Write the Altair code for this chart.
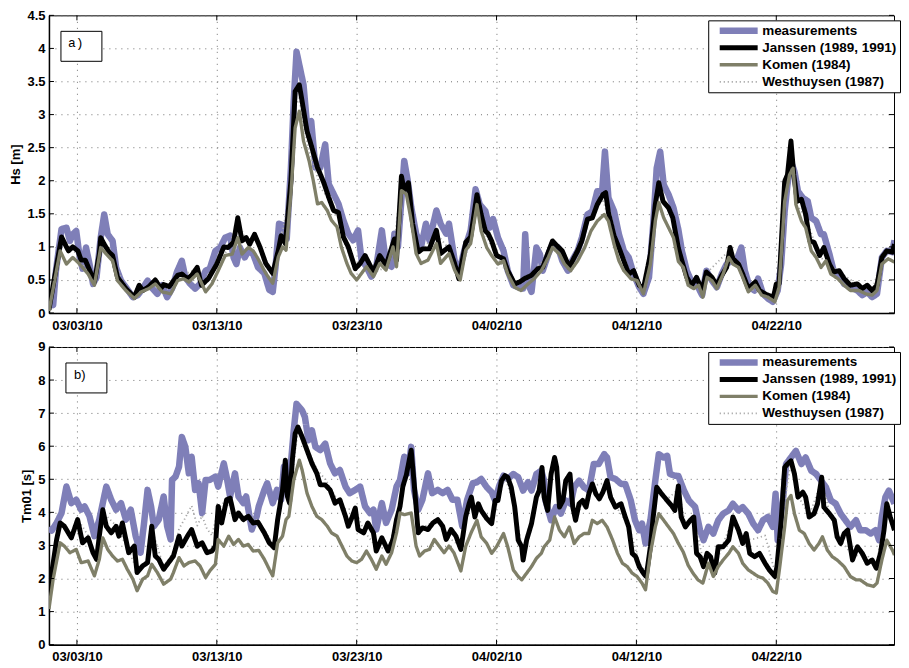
import altair as alt
import pandas as pd

START = pd.Timestamp("2010-03-01")

SERIES = ["measurements", "Janssen (1989, 1991)", "Komen (1984)", "Westhuysen (1987)"]
COLORS = ["#7f7fb8", "#000000", "#7f7f68", "#a8a8a8"]
WIDTHS = [6.5, 1.8, 1.9, 1.4]
DASHES = [[1, 0], [1, 0], [1, 0], [1.2, 2.8]]
DRAW_ORDER = ["measurements", "Westhuysen (1987)", "Janssen (1989, 1991)", "Komen (1984)"]

# ---------------- panel a: Hs [m]  (day offset from 2010-03-01, value) ----------------
hs_meas = [(0,0.22),(0.3,0.12),(0.5,0.64),(0.9,1.27),(1.25,1.29),(1.5,1.09),(1.7,1.19),(1.95,1.24),(2.2,0.84),(2.4,0.67),(2.65,0.99),(2.9,0.74),(3.15,0.44),(3.4,0.54),(3.7,1.14),(3.95,1.49),(4.2,1.19),(4.55,1.09),(4.8,0.69),(5.15,0.49),(5.5,0.39),(6.0,0.24),(6.35,0.27),(6.7,0.37),(7.05,0.49),(7.4,0.37),(7.75,0.29),(8.1,0.42),(8.45,0.24),(8.8,0.37),(9.15,0.62),(9.5,0.79),(9.75,0.54),(10.1,0.44),(10.45,0.37),(10.8,0.44),(11.2,0.64),(11.5,0.67),(11.9,0.94),(12.25,0.99),(12.6,1.14),(12.95,1.17),(13.2,0.84),(13.4,0.74),(13.65,0.99),(14.0,0.84),(14.25,0.94),(14.6,0.89),(14.95,0.69),(15.4,0.6),(15.75,0.35),(16.0,0.32),(16.2,0.7),(16.45,1.35),(16.8,1.32),(17.0,1.12),(17.3,2.2),(17.5,3.2),(17.7,3.95),(18.0,3.65),(18.2,3.45),(18.45,2.85),(18.75,2.9),(19.05,2.2),(19.4,2.2),(19.75,2.55),(20.0,1.95),(20.35,1.8),(20.7,1.65),(21.05,1.4),(21.4,1.2),(21.75,1.1),(22.1,1.25),(22.35,0.8),(22.7,0.7),(23.05,0.55),(23.4,0.7),(23.8,1.25),(24.1,0.75),(24.5,0.7),(24.7,1.2),(24.95,1.0),(25.4,2.3),(25.65,2.0),(25.9,1.6),(26.25,1.2),(26.6,1.0),(26.95,1.35),(27.2,1.1),(27.7,1.55),(28.0,1.35),(28.4,1.2),(28.6,1.35),(29.0,0.8),(29.3,0.6),(29.7,0.95),(30.15,1.25),(30.5,1.87),(30.8,1.64),(31.2,1.54),(31.5,1.29),(31.75,1.42),(32.1,1.14),(32.5,0.94),(32.8,0.64),(33.2,0.42),(33.55,0.39),(33.9,0.37),(34.05,1.19),(34.25,0.44),(34.5,0.32),(34.85,0.99),(35.1,0.89),(35.3,0.64),(35.7,0.89),(36.0,1.04),(36.4,0.99),(36.7,0.79),(37.1,0.64),(37.4,0.79),(37.8,0.94),(38.1,1.14),(38.5,1.49),(38.85,1.54),(39.2,1.84),(39.55,1.84),(39.75,2.44),(40.0,1.74),(40.4,1.54),(40.75,1.19),(41.1,0.94),(41.45,0.84),(41.8,0.59),(42.2,0.39),(42.5,0.29),(42.9,0.54),(43.2,1.34),(43.45,2.19),(43.7,2.44),(43.95,1.94),(44.3,1.79),(44.65,1.59),(45.0,1.26),(45.25,0.94),(45.6,0.64),(45.95,0.47),(46.3,0.44),(46.7,0.27),(47.0,0.64),(47.4,0.49),(47.75,0.39),(48.1,0.59),(48.45,0.74),(48.8,0.79),(49.15,0.79),(49.5,0.99),(49.75,0.64),(50.1,0.39),(50.45,0.34),(50.7,0.52),(51.05,0.29),(51.4,0.22),(51.75,0.17),(52.1,0.34),(52.35,0.74),(52.6,1.54),(52.8,1.94),(53.05,2.29),(53.3,2.14),(53.55,1.84),(53.9,1.74),(54.25,1.69),(54.5,1.44),(54.85,1.39),(55.2,1.19),(55.4,1.19),(55.8,0.89),(56.1,0.64),(56.5,0.57),(56.85,0.44),(57.3,0.39),(57.8,0.34),(58.15,0.27),(58.5,0.32),(58.85,0.24),(59.2,0.29),(59.55,0.84),(59.9,0.94),(60.3,0.92),(60.45,1.1)]

hs_janssen = [(0,0.05),(0.9,1.15),(1.25,1.0),(1.4,0.94),(1.7,1.0),(2.07,0.94),(2.3,0.8),(2.6,0.8),(2.9,0.65),(3.25,0.47),(3.6,0.9),(3.7,1.14),(3.95,1.04),(4.3,0.92),(4.55,0.87),(4.9,0.54),(5.5,0.37),(6.1,0.24),(6.45,0.42),(6.7,0.34),(7.15,0.4),(7.6,0.5),(8.0,0.37),(8.2,0.43),(8.6,0.4),(9.2,0.57),(9.5,0.59),(9.9,0.52),(10.2,0.57),(10.6,0.69),(10.9,0.42),(11.4,0.52),(12.0,0.74),(12.5,1.0),(12.8,0.99),(13.2,1.07),(13.5,1.44),(13.8,1.09),(14.1,1.14),(14.35,1.04),(14.7,1.19),(15.1,0.99),(15.5,0.75),(16.0,0.6),(16.4,0.95),(16.6,1.17),(16.9,1.05),(17.3,2.0),(17.6,3.35),(17.9,3.45),(18.1,3.2),(18.45,2.75),(18.8,2.5),(19.2,2.2),(19.4,2.1),(19.65,1.97),(20.0,1.75),(20.35,1.55),(20.7,1.52),(21.05,1.15),(21.4,1.0),(21.9,0.67),(22.25,0.75),(22.6,0.87),(23.2,0.62),(23.65,0.87),(24.1,0.72),(24.7,1.12),(24.85,0.8),(25.2,2.07),(25.4,1.85),(25.7,1.97),(26.0,1.35),(26.4,0.92),(26.7,0.97),(27.2,0.97),(27.7,1.25),(28.0,0.9),(28.6,1.0),(29.0,0.75),(29.3,0.52),(29.8,1.07),(30.15,1.15),(30.6,1.79),(30.9,1.49),(31.2,1.24),(31.4,1.2),(31.65,1.09),(32.0,0.87),(32.5,0.82),(32.8,0.64),(33.3,0.44),(33.65,0.47),(34.0,0.52),(34.5,0.57),(34.95,0.67),(35.3,0.69),(35.7,0.92),(36.0,1.09),(36.4,1.0),(36.7,0.94),(37.2,0.69),(37.55,0.84),(37.8,0.94),(38.1,1.09),(38.5,1.42),(38.85,1.44),(39.2,1.64),(39.6,1.79),(39.8,1.82),(40.0,1.52),(40.4,1.17),(40.75,0.99),(41.1,0.79),(41.45,0.59),(41.8,0.64),(42.2,0.42),(42.5,0.37),(43.0,0.89),(43.35,1.64),(43.6,1.97),(43.9,1.69),(44.3,1.59),(44.6,1.44),(45.0,0.98),(45.25,0.79),(45.6,0.54),(45.95,0.42),(46.3,0.54),(46.7,0.34),(47.0,0.62),(47.4,0.54),(47.75,0.42),(48.1,0.57),(48.45,0.69),(48.7,0.99),(48.9,0.82),(49.3,0.74),(49.6,0.59),(50.0,0.37),(50.5,0.47),(50.8,0.34),(51.3,0.28),(51.8,0.24),(52.0,0.44),(52.2,0.44),(52.6,1.99),(52.8,2.09),(53.05,2.6),(53.25,2.09),(53.5,1.69),(53.8,1.72),(54.1,1.49),(54.4,1.09),(54.7,1.07),(55.1,0.87),(55.4,0.99),(55.8,0.74),(56.1,0.62),(56.5,0.64),(56.85,0.52),(57.3,0.42),(57.8,0.44),(58.15,0.37),(58.5,0.42),(58.85,0.34),(59.2,0.42),(59.55,0.84),(59.9,0.94),(60.3,0.92),(60.45,1.04)]

hs_komen = [(0,0.03),(0.8,0.94),(1.25,0.74),(1.7,0.84),(2.05,0.77),(2.4,0.69),(2.8,0.59),(3.25,0.42),(3.7,0.99),(4.1,0.89),(4.55,0.79),(4.9,0.49),(5.5,0.34),(6.1,0.22),(6.6,0.32),(7.15,0.37),(7.6,0.44),(8.1,0.32),(8.7,0.29),(9.2,0.49),(9.6,0.52),(10.0,0.47),(10.6,0.59),(11.2,0.32),(11.65,0.44),(12.1,0.64),(12.6,0.87),(13.1,0.89),(13.5,1.14),(13.8,0.89),(14.25,0.99),(14.6,0.94),(14.95,0.82),(15.5,0.6),(16.0,0.45),(16.4,0.85),(16.7,1.0),(16.95,0.95),(17.3,1.8),(17.6,2.8),(17.9,3.05),(18.2,2.6),(18.6,2.3),(18.9,2.0),(19.2,1.65),(19.5,1.67),(19.9,1.55),(20.2,1.4),(20.6,1.3),(20.9,1.0),(21.3,0.75),(21.6,0.6),(22.0,0.5),(22.35,0.6),(22.7,0.7),(23.2,0.55),(23.65,0.75),(24.1,0.65),(24.6,1.0),(24.85,0.7),(25.2,1.85),(25.55,1.8),(25.9,1.4),(26.25,0.9),(26.6,0.75),(27.1,0.8),(27.7,1.05),(28.0,0.75),(28.6,0.9),(29.0,0.65),(29.4,0.5),(29.8,0.95),(30.15,1.05),(30.6,1.64),(30.9,1.24),(31.3,0.99),(31.65,0.87),(32.1,0.74),(32.5,0.79),(32.8,0.59),(33.3,0.39),(33.75,0.34),(34.25,0.44),(34.7,0.52),(35.2,0.64),(35.7,0.84),(36.0,0.99),(36.5,0.89),(36.85,0.74),(37.3,0.64),(37.8,0.79),(38.3,0.99),(38.75,1.24),(39.2,1.39),(39.7,1.49),(40.0,1.39),(40.4,1.04),(40.75,0.79),(41.1,0.64),(41.6,0.52),(42.05,0.49),(42.5,0.29),(43.0,0.74),(43.35,1.39),(43.6,1.67),(43.95,1.44),(44.3,1.29),(44.65,1.14),(45.0,0.78),(45.35,0.69),(45.7,0.42),(46.1,0.37),(46.45,0.42),(46.75,0.24),(47.05,0.54),(47.4,0.49),(47.75,0.37),(48.2,0.59),(48.6,0.84),(48.9,0.74),(49.3,0.69),(49.6,0.54),(50.0,0.32),(50.5,0.42),(50.95,0.27),(51.4,0.24),(51.9,0.17),(52.2,0.39),(52.6,1.69),(52.95,2.09),(53.2,2.19),(53.4,1.64),(53.8,1.39),(54.1,1.29),(54.5,0.94),(54.85,0.84),(55.2,0.69),(55.55,0.79),(55.9,0.59),(56.4,0.52),(56.85,0.42),(57.3,0.34),(57.9,0.34),(58.4,0.29),(58.85,0.27),(59.2,0.34),(59.55,0.74),(60.0,0.82),(60.45,0.77)]

hs_westhuysen = [(0,0.05),(0.9,1.1),(1.7,0.97),(2.3,0.78),(3.25,0.46),(3.7,1.1),(4.55,0.85),(5.5,0.36),(6.1,0.24),(7.6,0.48),(8.6,0.39),(9.5,0.57),(10.6,0.67),(10.9,0.42),(12.0,0.72),(12.8,0.97),(13.5,1.38),(14.1,1.1),(14.7,1.15),(15.5,0.73),(16.0,0.58),(16.6,1.12),(17.3,1.9),(17.6,3.1),(17.9,3.25),(18.2,2.85),(18.6,2.45),(19.0,2.2),(19.4,1.9),(19.9,1.75),(20.35,1.5),(20.7,1.45),(21.05,1.1),(21.9,0.65),(22.6,0.82),(23.2,0.6),(24.1,0.7),(24.7,1.08),(25.2,2.0),(25.7,1.9),(26.4,0.9),(27.7,1.2),(28.6,0.97),(29.3,0.52),(30.15,1.12),(30.6,1.75),(31.2,1.2),(32.0,0.85),(33.3,0.43),(34.5,0.56),(35.7,0.9),(36.0,1.06),(37.2,0.68),(38.5,1.38),(39.6,1.72),(40.4,1.14),(41.45,0.58),(42.5,0.36),(43.35,1.6),(43.6,1.92),(44.6,1.4),(45.6,0.53),(46.7,0.33),(47.0,0.6),(48.7,0.96),(50.0,0.37),(51.8,0.23),(52.2,0.43),(52.6,1.95),(53.05,2.5),(53.5,1.62),(54.1,1.45),(55.1,0.85),(56.5,0.62),(57.8,0.43),(58.85,0.33),(59.55,0.82),(60.45,1.0)]

# ---------------- panel b: Tm01 [s] ----------------
tm_meas = [(0,3.55),(0.2,3.45),(0.55,3.68),(0.9,3.98),(1.25,4.78),(1.6,4.28),(1.95,4.38),(2.3,4.08),(2.55,4.18),(2.9,3.88),(3.25,3.28),(3.6,3.78),(4.1,4.78),(4.45,4.38),(4.8,4.08),(5.15,4.28),(5.5,3.78),(5.85,4.08),(6.2,3.28),(6.55,2.78),(6.8,3.68),(7.05,4.68),(7.3,4.18),(7.5,3.58),(7.85,3.78),(8.2,4.48),(8.45,3.58),(8.7,3.18),(8.8,4.98),(9.05,5.08),(9.3,5.38),(9.5,6.28),(9.75,5.98),(10.0,5.18),(10.2,5.68),(10.45,4.68),(10.7,4.88),(10.95,3.98),(11.2,4.98),(11.5,4.98),(11.9,5.08),(12.1,4.78),(12.5,5.48),(12.7,5.08),(12.95,4.48),(13.3,5.18),(13.55,4.48),(13.9,4.28),(14.1,4.48),(14.5,3.48),(14.85,3.88),(15.0,4.18),(15.4,4.68),(15.6,4.88),(16.0,4.28),(16.3,4.68),(16.6,4.38),(16.8,5.38),(17.0,4.98),(17.3,5.48),(17.5,6.48),(17.7,7.28),(18.1,7.08),(18.3,6.88),(18.55,6.18),(18.8,6.48),(19.05,5.98),(19.4,5.88),(19.75,6.08),(20.1,5.48),(20.45,5.18),(20.8,5.28),(21.2,4.78),(21.5,4.58),(21.9,4.68),(22.25,4.78),(22.6,4.18),(22.95,3.98),(23.2,4.08),(23.4,3.48),(23.8,4.28),(24.1,3.68),(24.5,4.08),(24.85,4.78),(25.1,4.98),(25.4,5.68),(25.65,5.18),(25.9,5.98),(26.1,4.68),(26.4,4.08),(26.7,4.38),(27.1,5.18),(27.4,4.58),(27.8,4.68),(28.15,4.58),(28.5,4.68),(28.85,4.38),(29.2,4.38),(29.55,3.58),(29.9,4.38),(30.3,4.88),(30.6,4.91),(30.9,5.01),(31.3,4.76),(31.65,4.61),(31.9,4.36),(32.2,4.81),(32.5,5.11),(32.8,5.01),(33.2,5.16),(33.55,5.06),(33.9,4.66),(34.25,4.91),(34.5,4.66),(34.85,5.16),(35.2,5.26),(35.4,4.96),(35.5,4.36),(35.9,3.76),(36.25,4.16),(36.6,3.96),(36.95,4.36),(37.3,4.26),(37.55,4.76),(37.9,4.96),(38.25,4.76),(38.6,4.66),(38.95,5.46),(39.3,5.46),(39.7,5.76),(39.9,5.66),(40.15,5.06),(40.5,5.01),(40.9,4.86),(41.2,4.86),(41.6,4.36),(41.9,3.76),(42.2,3.46),(42.4,3.66),(42.65,3.06),(43.0,3.76),(43.35,4.96),(43.6,5.76),(43.95,5.66),(44.2,5.71),(44.4,5.16),(44.75,5.11),(45.0,5.1),(45.4,4.66),(45.75,4.36),(46.2,4.16),(46.55,3.46),(46.8,3.16),(47.15,3.56),(47.5,3.36),(47.85,3.76),(48.2,3.96),(48.6,4.06),(48.9,4.26),(49.3,4.06),(49.6,4.16),(50.0,3.96),(50.35,3.66),(50.7,3.46),(51.05,3.76),(51.4,3.86),(51.75,3.56),(51.95,4.56),(52.1,3.16),(52.5,4.46),(52.7,5.46),(53.05,5.66),(53.4,5.86),(53.8,5.46),(54.1,5.66),(54.5,5.26),(54.85,5.16),(55.2,4.96),(55.55,4.76),(55.9,4.36),(56.25,4.26),(56.6,3.96),(56.95,3.76),(57.3,3.56),(57.7,3.76),(58.0,3.46),(58.4,3.46),(58.75,3.36),(59.1,3.46),(59.35,3.16),(59.55,3.86),(59.8,4.46),(60.05,4.66),(60.45,4.26)]

tm_janssen = [(0,1.58),(0.2,2.18),(0.55,3.18),(0.8,3.68),(1.1,3.58),(1.6,3.23),(2.05,3.78),(2.4,3.08),(2.8,3.23),(3.15,2.78),(3.4,2.58),(3.6,3.28),(3.85,4.08),(4.1,3.58),(4.45,3.38),(4.8,3.58),(5.0,3.28),(5.25,3.68),(5.5,3.18),(5.7,2.78),(6.1,2.98),(6.3,2.18),(6.7,2.38),(7.05,2.48),(7.35,3.58),(7.6,2.68),(7.85,2.58),(8.2,2.28),(8.55,2.48),(8.9,2.68),(9.3,3.28),(9.5,2.98),(9.9,3.28),(10.2,3.48),(10.6,2.98),(10.95,3.08),(11.3,2.78),(11.65,2.83),(11.9,2.98),(12.1,4.18),(12.35,3.68),(12.7,4.38),(12.95,4.43),(13.3,3.78),(13.55,3.98),(13.9,3.78),(14.25,3.88),(14.6,3.68),(14.95,3.7),(15.4,3.38),(15.75,3.08),(16.1,2.93),(16.35,3.78),(16.7,4.68),(16.9,5.58),(17.05,4.48),(17.2,4.28),(17.4,5.58),(17.6,6.38),(17.8,6.58),(18.1,6.28),(18.45,5.88),(18.8,5.48),(19.15,5.18),(19.4,4.83),(19.75,4.83),(20.1,4.68),(20.45,4.28),(20.8,4.38),(21.2,3.88),(21.4,3.58),(21.65,3.83),(21.9,4.13),(22.1,3.48),(22.5,3.38),(22.8,3.68),(23.2,3.38),(23.4,2.83),(23.8,3.23),(24.25,2.83),(24.6,3.18),(24.85,3.78),(25.1,4.18),(25.3,4.78),(25.55,5.13),(25.9,5.88),(26.15,4.68),(26.4,3.38),(26.7,3.53),(27.1,3.48),(27.45,3.68),(27.8,3.78),(28.15,3.58),(28.4,3.18),(28.75,3.48),(29.1,3.28),(29.45,2.88),(29.8,3.88),(30.05,4.28),(30.2,4.46),(30.45,3.86),(30.7,4.26),(30.9,4.06),(31.3,3.81),(31.65,3.66),(31.9,4.36),(32.1,4.36),(32.35,4.96),(32.6,5.11),(32.8,5.06),(33.05,4.76),(33.3,4.16),(33.55,3.16),(33.8,2.96),(33.9,2.56),(34.15,3.16),(34.5,3.66),(34.85,4.46),(35.05,4.66),(35.25,5.36),(35.4,4.46),(35.65,4.06),(35.9,5.16),(36.15,5.66),(36.3,5.36),(36.5,4.16),(36.75,4.36),(36.95,4.96),(37.25,5.16),(37.45,4.16),(37.65,3.76),(37.9,4.26),(38.15,4.36),(38.4,4.16),(38.6,4.56),(38.85,4.86),(39.1,4.56),(39.35,4.41),(39.6,4.61),(39.9,4.96),(40.15,4.46),(40.5,4.16),(40.9,4.26),(41.2,3.86),(41.45,3.56),(41.7,2.76),(41.95,2.66),(42.2,2.36),(42.5,2.16),(42.7,2.06),(43.0,2.96),(43.2,3.86),(43.45,4.76),(43.8,4.56),(44.2,4.36),(44.5,4.21),(44.75,4.06),(45.0,4.8),(45.2,3.86),(45.5,3.56),(45.85,3.76),(46.1,3.86),(46.3,2.76),(46.55,2.66),(46.8,2.36),(47.05,2.76),(47.3,2.66),(47.6,2.16),(47.85,2.96),(48.2,2.96),(48.6,3.16),(48.9,3.86),(49.3,3.46),(49.6,3.06),(49.85,3.36),(50.1,2.76),(50.45,2.66),(50.8,2.76),(51.2,2.46),(51.5,2.26),(51.9,2.06),(52.05,2.36),(52.35,3.76),(52.6,5.36),(52.8,5.46),(53.05,5.56),(53.3,5.16),(53.55,4.46),(53.9,4.61),(54.1,4.46),(54.35,3.86),(54.7,3.96),(54.95,4.26),(55.25,5.06),(55.4,4.16),(55.8,3.96),(56.15,3.76),(56.35,3.26),(56.6,3.06),(56.85,3.36),(57.1,3.46),(57.45,2.56),(57.8,2.96),(58.15,2.76),(58.5,2.46),(58.85,2.56),(59.15,2.31),(59.45,2.76),(59.7,3.46),(59.9,4.26),(60.15,3.86),(60.45,3.46)]

tm_komen = [(0,1.08),(0.3,1.98),(0.8,3.08),(1.1,2.98),(1.5,2.78),(1.95,2.88),(2.3,2.48),(2.8,2.53),(3.25,2.08),(3.6,2.58),(3.85,3.23),(4.2,2.88),(4.55,2.68),(4.9,2.53),(5.25,2.58),(5.6,2.28),(6.0,1.98),(6.3,1.63),(6.7,1.98),(7.05,2.08),(7.35,2.43),(7.75,2.18),(8.2,1.83),(8.7,1.98),(8.9,2.18),(9.3,2.63),(9.65,2.38),(10.0,2.48),(10.45,2.53),(10.8,2.38),(11.2,2.03),(11.5,2.23),(11.9,2.43),(12.1,3.18),(12.5,2.98),(12.85,3.28),(13.2,3.03),(13.55,3.18),(13.9,2.98),(14.25,3.03),(14.6,2.83),(15.0,2.85),(15.4,2.58),(15.75,2.28),(16.0,2.08),(16.35,3.08),(16.7,3.28),(16.95,3.78),(17.15,3.88),(17.5,4.98),(17.9,5.58),(18.1,5.28),(18.45,4.58),(18.8,4.18),(19.15,3.88),(19.5,3.78),(19.9,3.58),(20.2,3.38),(20.6,3.28),(20.95,2.98),(21.3,2.68),(21.65,2.53),(22.0,2.48),(22.35,2.58),(22.7,2.83),(23.05,2.58),(23.4,2.28),(23.8,2.68),(24.1,2.43),(24.5,2.78),(24.85,3.38),(25.1,3.98),(25.4,3.93),(25.9,3.98),(26.25,2.98),(26.5,2.68),(26.85,2.83),(27.2,2.88),(27.55,3.18),(27.9,2.98),(28.25,2.78),(28.6,2.98),(28.95,2.78),(29.45,2.23),(29.8,2.98),(30.2,3.4),(30.6,3.76),(30.9,3.26),(31.3,3.06),(31.65,2.76),(32.0,2.96),(32.5,3.36),(32.8,2.96),(33.2,2.26),(33.55,2.06),(33.8,1.96),(34.15,2.16),(34.5,2.36),(34.85,2.61),(35.2,2.76),(35.4,2.96),(35.8,3.16),(36.15,3.86),(36.5,3.46),(36.85,3.26),(37.2,3.56),(37.55,3.06),(37.9,3.26),(38.25,3.36),(38.6,3.36),(38.85,3.76),(39.2,3.66),(39.55,3.76),(39.9,3.56),(40.3,3.16),(40.65,2.76),(41.0,2.46),(41.35,2.36),(41.7,2.16),(42.05,2.06),(42.4,1.86),(42.65,1.66),(43.0,2.76),(43.35,3.56),(43.6,3.96),(43.95,3.76),(44.3,3.56),(44.65,3.36),(45.0,3.06),(45.35,2.8),(45.7,2.4),(46.05,2.16),(46.4,1.96),(46.75,1.86),(47.15,2.46),(47.5,2.06),(47.85,2.36),(48.2,2.56),(48.6,2.76),(48.9,2.96),(49.3,2.76),(49.6,2.46),(50.0,2.26),(50.35,2.16),(50.7,2.06),(51.05,2.01),(51.4,1.86),(51.75,1.61),(52.0,1.56),(52.25,2.36),(52.6,3.56),(52.8,4.36),(53.05,4.51),(53.3,3.96),(53.65,3.46),(54.0,3.36),(54.35,3.06),(54.7,2.86),(55.05,3.06),(55.3,3.26),(55.65,2.86),(56.0,2.66),(56.35,2.56),(56.85,2.36),(57.3,2.06),(57.7,1.96),(58.0,1.96),(58.5,1.81),(58.95,1.76),(59.2,1.86),(59.55,2.56),(59.9,3.16),(60.3,2.86),(60.45,2.71)]

tm_westhuysen = [(0,1.6),(0.55,3.2),(0.8,3.7),(1.6,3.3),(2.05,3.8),(2.8,3.3),(3.4,2.65),(3.85,4.0),(4.8,3.6),(5.7,2.85),(6.3,2.25),(7.05,2.55),(7.35,3.5),(8.2,2.35),(8.9,2.8),(9.3,3.5),(9.7,3.8),(10.2,4.2),(10.6,3.6),(10.95,3.9),(11.3,3.5),(11.65,3.3),(12.1,4.1),(12.7,4.4),(13.3,3.85),(14.25,3.9),(14.95,3.75),(16.1,3.0),(16.9,5.4),(17.2,4.4),(17.8,6.5),(18.45,5.95),(19.15,5.3),(19.75,5.0),(20.45,4.5),(21.2,4.1),(21.9,4.1),(22.5,3.45),(23.4,2.95),(24.25,2.9),(24.85,3.8),(25.55,5.1),(25.9,5.8),(26.4,3.45),(27.8,3.8),(28.4,3.3),(29.45,2.95),(30.05,4.25),(30.9,4.1),(31.65,3.75),(32.6,5.05),(33.3,4.2),(33.9,2.7),(34.85,4.45),(35.25,5.3),(35.65,4.1),(36.15,5.6),(36.5,4.2),(37.25,5.1),(37.65,3.85),(38.85,4.8),(39.9,4.9),(40.5,4.2),(41.45,3.6),(42.2,2.5),(42.7,2.15),(43.45,4.7),(44.2,4.4),(45.0,4.7),(45.5,3.65),(46.1,3.8),(46.8,2.5),(47.6,2.35),(48.2,3.05),(48.9,3.8),(49.6,3.15),(50.45,3.2),(51.2,3.3),(51.9,2.2),(52.35,3.7),(53.05,5.5),(53.55,4.5),(54.35,3.9),(55.25,4.95),(55.8,4.0),(56.6,3.15),(57.45,2.7),(58.5,2.7),(59.15,2.4),(59.9,4.2),(60.45,3.5)]

X_TICK_DATES = ["2010-03-03", "2010-03-13", "2010-03-23", "2010-04-02", "2010-04-12", "2010-04-22"]
HS_TICKS = [0, 0.5, 1, 1.5, 2, 2.5, 3, 3.5, 4, 4.5]
TM_TICKS = [0, 1, 2, 3, 4, 5, 6, 7, 8, 9]

W, H = 846, 298
FONT = "Liberation Sans"


def series_frame(lists):
    rows = []
    for name, pairs in zip(SERIES, lists):
        for d, v in pairs:
            rows.append({"series": name, "t": START + pd.Timedelta(days=d), "v": v})
    return pd.DataFrame(rows)


X0 = alt.DateTime(year=2010, month=3, date=1, hours=0)
X1 = alt.DateTime(year=2010, month=4, date=30, hours=10)
xtick_dt = [alt.DateTime(year=2010, month=int(s[5:7]), date=int(s[8:10])) for s in X_TICK_DATES]


def panel(lists, ytitle, ymax, yticks, label, label_font, label_dx):
    df = series_frame(lists)
    x = alt.X("t:T", scale=alt.Scale(domain=[X0, X1]),
              axis=alt.Axis(values=xtick_dt, format="%m/%d/%y", title=None, labelPadding=6,
                            ticks=False, tickSize=0, labelFlush=False, labelOverlap=False))
    y = alt.Y("v:Q", scale=alt.Scale(domain=[0, ymax], nice=False, zero=True),
              axis=alt.Axis(values=yticks, format="~g", title=ytitle, labelPadding=4,
                            ticks=False, tickSize=0, titlePadding=4.5))
    leg = alt.Legend(title=None, orient="none", legendX=W - 186, legendY=5,
                     fillColor="white", strokeColor="black", padding=3,
                     symbolType="stroke", symbolSize=1444, symbolOffset=5,
                     labelOffset=1, labelFont=FONT, labelFontSize=13.5, labelFontWeight="bold",
                     labelColor="black", rowPadding=2, clipHeight=15, labelLimit=300)
    color = alt.Color("series:N", scale=alt.Scale(domain=SERIES, range=COLORS), legend=leg)
    sw = alt.StrokeWidth("series:N", scale=alt.Scale(domain=SERIES, range=WIDTHS), legend=leg)
    sd = alt.StrokeDash("series:N", scale=alt.Scale(domain=SERIES, range=DASHES), legend=leg)

    base = alt.Chart(df)
    layers = []
    for s in DRAW_ORDER:
        layers.append(
            base.transform_filter(alt.datum.series == s)
            .mark_line(clip=True, strokeJoin="round")
            .encode(x=x, y=y, color=color, strokeWidth=sw, strokeDash=sd)
        )

    xt = alt.Chart(pd.DataFrame({"t": [pd.Timestamp(s) for s in X_TICK_DATES]}))
    layers.append(xt.mark_rule(color="black", strokeWidth=1).encode(x=x, y=alt.value(H), y2=alt.value(H - 5)))
    layers.append(xt.mark_rule(color="black", strokeWidth=1).encode(x=x, y=alt.value(0), y2=alt.value(5)))
    yt = alt.Chart(pd.DataFrame({"v": yticks}))
    layers.append(yt.mark_rule(color="black", strokeWidth=1).encode(y=y, x=alt.value(0), x2=alt.value(5)))
    layers.append(yt.mark_rule(color="black", strokeWidth=1).encode(y=y, x=alt.value(W), x2=alt.value(W - 5)))

    lab = alt.Chart(pd.DataFrame({"lab": [label]}))
    layers.append(lab.mark_rect(fill="white", stroke="black", strokeWidth=1)
                  .encode(x=alt.value(12 + label_dx), x2=alt.value(53 + label_dx),
                          y=alt.value(16), y2=alt.value(46)))
    layers.append(lab.mark_text(align="left", baseline="middle", font=label_font, fontSize=13,
                                color="black")
                  .encode(text="lab:N", x=alt.value(19 + label_dx + (0 if label_font != FONT else 1)),
                          y=alt.value(28)))
    return alt.layer(*layers).properties(width=W, height=H)


pa = panel([hs_meas, hs_janssen, hs_komen, hs_westhuysen], "Hs [m]", 4.5, HS_TICKS, "a)", "Liberation Mono", 0)
pb = panel([tm_meas, tm_janssen, tm_komen, tm_westhuysen], "Tm01 [s]", 9, TM_TICKS, "b)", FONT, 5)

chart = (
    alt.vconcat(pa, pb, spacing=7)
    .resolve_legend(color="independent", strokeWidth="independent", strokeDash="independent")
    .properties(padding={"left": 0, "top": 0, "right": 0, "bottom": 0})
    .configure_view(stroke="black", strokeWidth=1)
    .configure_axis(grid=True, gridColor="#707070", gridDash=[1, 5], gridWidth=1,
                    domainColor="black", domainWidth=1.5,
                    labelFont=FONT, labelFontSize=13, labelFontWeight="bold", labelColor="black",
                    titleFont=FONT, titleFontSize=13, titleFontWeight="bold", titleColor="black")
)

chart.save("out.html", embed_options={"renderer": "svg", "actions": False})
